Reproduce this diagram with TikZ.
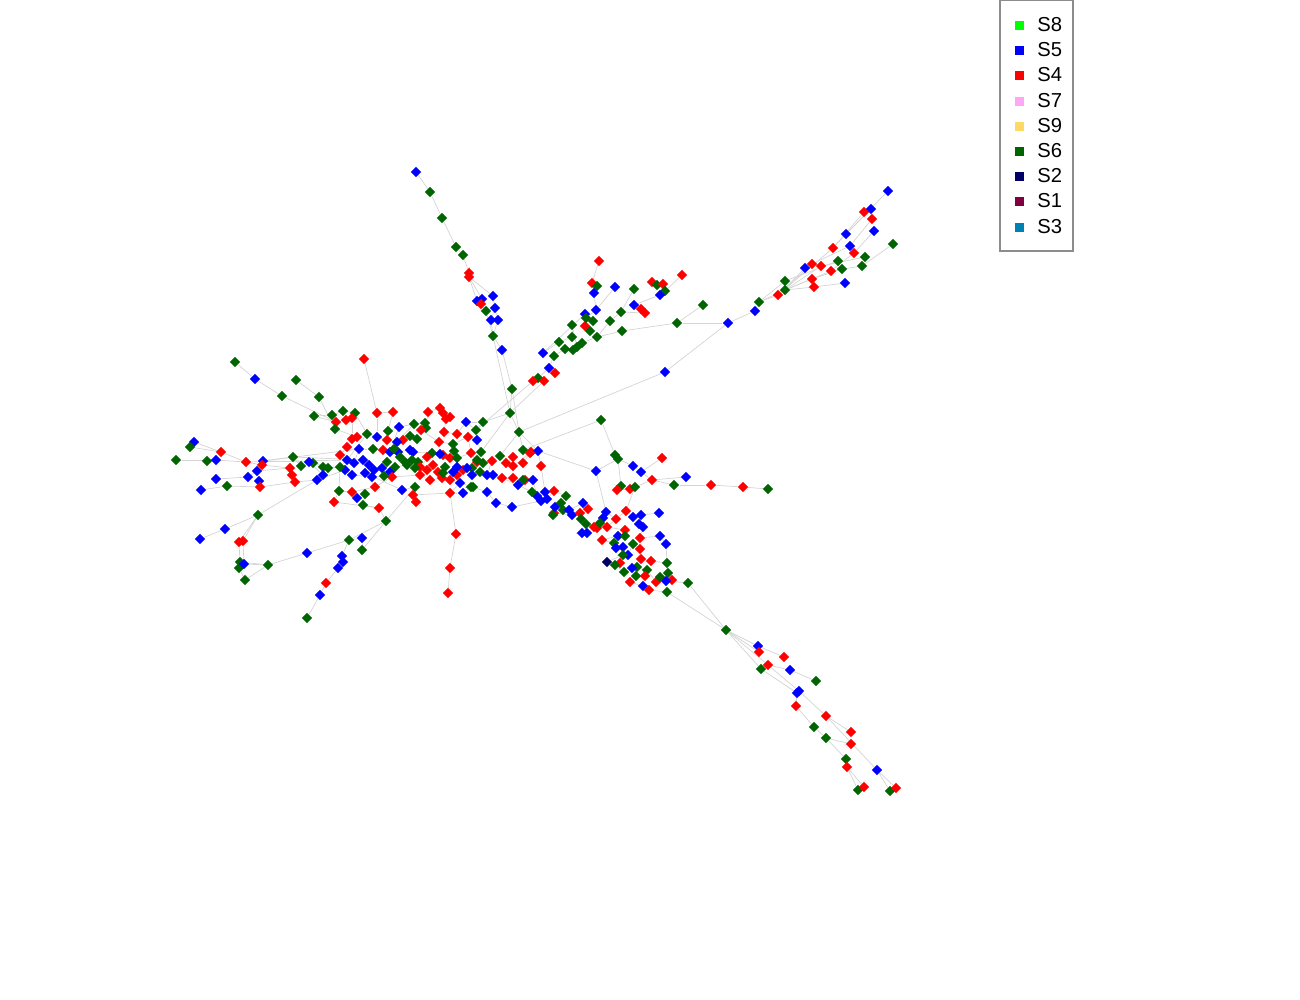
\documentclass[tikz,border=0pt]{standalone}
\usepackage{fontspec}
\setmainfont{Liberation Sans}
\usepackage{tikz}
\usetikzlibrary{shapes.geometric, backgrounds}
\definecolor{S8}{HTML}{00FF00}
\definecolor{S5}{HTML}{0000FF}
\definecolor{S4}{HTML}{FF0000}
\definecolor{S7}{HTML}{FFA6F5}
\definecolor{S9}{HTML}{FFD966}
\definecolor{S6}{HTML}{006400}
\definecolor{S2}{HTML}{000066}
\definecolor{S1}{HTML}{800040}
\definecolor{S3}{HTML}{0080B3}
\tikzset{vert/.style={shape=diamond,draw=none,inner sep=0pt,minimum size=2.1mm}}
\tikzset{link/.style={draw=black!17,line width=0.4pt}}
\tikzset{key/.style={shape=rectangle,draw=none,inner sep=0pt,minimum size=1.8mm}}

\begin{document}
\begin{tikzpicture}[x=0.2mm,y=-0.2mm]
\useasboundingbox (0,0) rectangle (1300,1000);
% top arm
\foreach \n/\c/\x/\y in {a1/S5/416/172, a2/S6/430/192, a3/S6/442/218, a4/S6/456/247, a5/S6/463/255,
  a6/S4/469/273, a7/S4/469/277, a8/S5/477/301, a9/S5/482/299, a10/S4/481/304, a11/S5/493/296,
  a12/S5/495/308, a13/S6/486/311, a14/S5/491/320, a15/S5/498/320, a16/S6/493/336, a17/S5/502/350}
  \node[vert,fill=\c] (\n) at (\x,\y) {};
% upper right arm
\foreach \n/\c/\x/\y in {b1/S4/599/261, b2/S4/592/283, b3/S6/597/286, b4/S5/615/287, b5/S5/594/293,
  b6/S6/634/289, b7/S4/652/282, b8/S6/657/285, b9/S4/663/284, b10/S6/665/291, b11/S5/660/295,
  b12/S4/682/275, b13/S5/634/305, b14/S4/641/309, b15/S4/645/313, b16/S6/703/305, b17/S5/596/310,
  b18/S5/585/314, b19/S6/621/312, b20/S6/610/321, b21/S6/677/323, b22/S5/728/323, b23/S4/585/326,
  b24/S6/586/318, b25/S6/593/321, b26/S6/622/331, b27/S6/590/331, b28/S6/597/337, b29/S6/572/325,
  b30/S6/572/337, b31/S6/559/342, b32/S6/565/349, b33/S6/573/350, b34/S6/577/347, b35/S6/582/343,
  b36/S5/543/353, b37/S6/554/356, b38/S5/549/368, b39/S4/555/373, b40/S6/538/378, b41/S4/533/381,
  b42/S4/544/381, b43/S5/665/372}
  \node[vert,fill=\c] (\n) at (\x,\y) {};
% far north-east arm
\foreach \n/\c/\x/\y in {c1/S5/888/191, c2/S4/864/212, c3/S5/871/209, c4/S4/872/219, c5/S5/874/231,
  c6/S6/893/244, c7/S5/846/234, c8/S4/833/248, c9/S5/850/246, c10/S4/854/253, c11/S6/865/257,
  c12/S6/838/261, c13/S6/862/266, c14/S6/842/269, c15/S5/805/268, c16/S4/812/264, c17/S4/821/266,
  c18/S4/831/271, c19/S4/812/279, c20/S4/814/287, c21/S5/845/283, c22/S6/785/281, c23/S6/785/290,
  c24/S4/778/295, c25/S6/759/302, c26/S5/755/311}
  \node[vert,fill=\c] (\n) at (\x,\y) {};
% east cluster
\foreach \n/\c/\x/\y in {d1/S6/510/413, d2/S6/601/420, d3/S6/519/432, d4/S6/523/450, d5/S4/531/452,
  d6/S5/538/451, d7/S4/541/466, d8/S4/523/463, d9/S6/615/455, d10/S6/618/459, d11/S4/662/458,
  d12/S5/596/471, d13/S5/633/466, d14/S5/641/472, d15/S4/652/480, d16/S5/686/477, d17/S6/674/485,
  d18/S4/711/485, d19/S4/743/487, d20/S6/768/489, d21/S6/621/486, d22/S4/617/490, d23/S4/630/489,
  d24/S6/635/487, d25/S4/554/491, d26/S6/566/496, d27/S5/537/496, d28/S5/545/492, d29/S5/541/501,
  d30/S5/547/499, d31/S4/554/513, d32/S6/553/515, d33/S6/561/503, d34/S6/563/510, d35/S5/555/507,
  d36/S5/569/510, d37/S5/572/515, d38/S5/583/503, d39/S4/588/509, d40/S4/580/513, d41/S6/581/519,
  d42/S6/586/524, d43/S5/582/533, d44/S5/587/533, d45/S5/606/512, d46/S5/603/518, d47/S4/594/527,
  d48/S4/597/528, d49/S4/607/527, d50/S4/616/519, d51/S4/626/511, d52/S5/633/517, d53/S5/641/515,
  d54/S5/639/524, d55/S5/643/527, d56/S5/659/513, d57/S6/600/523, d58/S4/625/530, d59/S5/618/536,
  d60/S6/625/536, d61/S4/640/538, d62/S5/660/536, d63/S5/666/544, d64/S4/602/540, d65/S6/614/543,
  d66/S6/633/544, d67/S4/640/549, d68/S5/616/548, d69/S5/623/547, d70/S5/628/555, d71/S6/623/555,
  d72/S2/607/562, d73/S4/620/563, d74/S6/615/565, d75/S4/641/559, d76/S4/651/561, d77/S6/667/563,
  d78/S6/637/567, d79/S6/647/570, d80/S6/636/576, d81/S5/632/568, d82/S6/624/572, d83/S4/645/576,
  d84/S4/656/582, d85/S6/660/577, d86/S6/668/573, d87/S4/672/580, d88/S5/666/581, d89/S4/630/582,
  d90/S5/643/586, d91/S4/649/590, d92/S6/667/592, d93/S6/688/583}
  \node[vert,fill=\c] (\n) at (\x,\y) {};
% south-east arm
\foreach \n/\c/\x/\y in {e1/S6/726/630, e2/S5/758/646, e3/S4/759/652, e4/S4/784/657, e5/S4/768/665,
  e6/S6/761/669, e7/S5/790/670, e8/S6/816/681, e9/S5/799/691, e10/S5/797/693, e11/S4/796/706,
  e12/S4/826/716, e13/S6/814/727, e14/S6/826/738, e15/S4/851/732, e16/S4/851/744, e17/S6/846/759,
  e18/S4/847/767, e19/S5/877/770, e20/S6/858/790, e21/S4/864/787, e22/S6/890/791, e23/S4/896/788}
  \node[vert,fill=\c] (\n) at (\x,\y) {};
% core
\foreach \n/\c/\x/\y in {f1/S4/364/359, f2/S6/512/389, f3/S4/377/413, f4/S4/393/412, f5/S4/428/412,
  f6/S4/440/408, f7/S4/443/413, f8/S4/450/417, f9/S4/446/419, f10/S5/466/422, f11/S6/483/422,
  f12/S6/414/424, f13/S6/425/423, f14/S6/426/428, f15/S5/399/427, f16/S6/388/431, f17/S4/421/430,
  f18/S4/444/432, f19/S4/457/434, f20/S6/476/430, f21/S4/468/437, f22/S6/367/434, f23/S5/377/437,
  f24/S4/387/440, f25/S4/403/440, f26/S6/410/436, f27/S6/417/439, f28/S5/397/442, f29/S4/439/442,
  f30/S6/453/444, f31/S5/477/440, f32/S5/359/449, f33/S6/373/449, f34/S4/383/450, f35/S5/390/452,
  f36/S5/398/452, f37/S5/410/450, f38/S5/413/452, f39/S6/394/449, f40/S6/400/457, f41/S6/405/462,
  f42/S6/412/460, f43/S6/418/462, f44/S6/432/453, f45/S4/443/455, f46/S4/450/458, f47/S5/440/454,
  f48/S6/454/451, f49/S6/457/458, f50/S4/471/453, f51/S4/477/462, f52/S6/481/452, f53/S6/477/460,
  f54/S6/483/463, f55/S6/500/456, f56/S4/513/457, f57/S4/530/453, f58/S4/492/461, f59/S4/506/463,
  f60/S4/513/466, f61/S5/347/460, f62/S5/354/463, f63/S5/363/460, f64/S5/369/465, f65/S5/374/470,
  f66/S5/365/473, f67/S5/345/470, f68/S5/352/475, f69/S5/372/477, f70/S6/387/462, f71/S6/395/467,
  f72/S5/382/468, f73/S5/390/472, f74/S4/392/477, f75/S6/384/476, f76/S4/420/467, f77/S4/427/470,
  f78/S4/433/465, f79/S4/438/472, f80/S4/442/478, f81/S4/430/480, f82/S4/420/475, f83/S6/407/465,
  f84/S6/415/468, f85/S6/445/467, f86/S6/443/473, f87/S4/450/480, f88/S4/457/475, f89/S4/463/470,
  f90/S5/453/472, f91/S5/457/467, f92/S6/472/468, f93/S6/480/472, f94/S5/472/475, f95/S5/467/468,
  f96/S4/427/457, f97/S5/487/475, f98/S5/493/475, f99/S4/502/478, f100/S4/513/478, f101/S4/525/480,
  f102/S6/523/480, f103/S5/533/480, f104/S5/518/485, f105/S4/375/487, f106/S5/402/490,
  f107/S6/415/487, f108/S4/413/495, f109/S6/473/487, f110/S5/460/483, f111/S5/487/492,
  f112/S4/450/493, f113/S5/496/503, f114/S5/512/507, f115/S6/532/492}
  \node[vert,fill=\c] (\n) at (\x,\y) {};
% west
\foreach \n/\c/\x/\y in {g1/S6/235/362, g2/S5/255/379, g3/S6/296/380, g4/S6/282/396, g5/S6/319/397,
  g6/S6/314/416, g7/S6/332/415, g8/S6/343/411, g9/S6/355/413, g10/S4/336/422, g11/S4/346/420,
  g12/S4/352/418, g13/S6/335/429, g14/S4/352/439, g15/S4/357/437, g16/S4/347/447, g17/S4/340/455,
  g18/S5/194/442, g19/S6/190/447, g20/S4/221/452, g21/S6/176/460, g22/S6/207/461, g23/S5/216/460,
  g24/S4/246/462, g25/S5/263/461, g26/S4/262/465, g27/S5/257/471, g28/S6/293/457, g29/S6/301/466,
  g30/S4/290/468, g31/S4/292/475, g32/S4/295/482, g33/S5/216/479, g34/S5/248/477, g35/S5/259/481,
  g36/S4/260/487, g37/S6/227/486, g38/S5/201/490, g39/S6/313/463, g40/S6/323/467, g41/S6/328/468,
  g42/S6/340/467, g43/S5/309/462, g44/S5/323/475, g45/S5/317/480}
  \node[vert,fill=\c] (\n) at (\x,\y) {};
% south-west
\foreach \n/\c/\x/\y in {h1/S6/258/515, h2/S5/225/529, h3/S5/200/539, h4/S4/239/542, h5/S4/243/541,
  h6/S6/240/562, h7/S6/239/568, h8/S5/244/564, h9/S6/268/565, h10/S6/245/580, h11/S5/307/553,
  h12/S6/349/540, h13/S5/362/538, h14/S6/362/550, h15/S5/342/556, h16/S5/343/562, h17/S5/338/568,
  h18/S4/326/583, h19/S5/320/595, h20/S6/307/618, h21/S6/339/491, h22/S4/352/492, h23/S5/357/498,
  h24/S4/334/502, h25/S6/363/505, h26/S6/365/494, h27/S4/379/508, h28/S6/386/521, h29/S4/456/534,
  h30/S4/450/568, h31/S4/448/593, h33/S4/416/502, h35/S5/463/493, h36/S6/471/487}
  \node[vert,fill=\c] (\n) at (\x,\y) {};

\begin{scope}[on background layer]
\foreach \u/\v in {a1/a2, a2/a3, a3/a4, a4/a5, a5/a6, a6/a7, a7/a8, a7/a9, a9/a10, a7/a11, a8/a13,
  a11/a12, a12/a14, a12/a15, a13/a16, a15/a16, a14/a16, a16/a17, a17/f2, a16/d1}
  \draw[link] (\u) -- (\v);
\foreach \u/\v in {b1/b2, b2/b3, b3/b5, b5/b17, b4/b17, b6/b19, b7/b8, b8/b10, b9/b10, b10/b11,
  b11/b13, b12/b10, b13/b14, b14/b15, b15/b19, b16/b21, b21/b26, b22/b21, b17/b24, b18/b24,
  b24/b25, b25/b23, b23/b27, b27/b28, b28/b26, b19/b20, b20/b28, b29/b30, b30/b31, b31/b32,
  b32/b33, b33/b34, b34/b35, b35/b28, b36/b31, b37/b32, b38/b37, b39/b38, b40/b38, b41/b40,
  b42/b40, b41/f20, b42/d1, b22/b43, b43/d3, b18/b36, b29/b34}
  \draw[link] (\u) -- (\v);
\foreach \u/\v in {c1/c7, c2/c8, c3/c7, c4/c9, c5/c10, c6/c13, c7/c8, c8/c24, c9/c16, c10/c18,
  c11/c17, c12/c22, c13/c18, c14/c19, c15/c24, c16/c24, c17/c23, c18/c23, c19/c23, c20/c23,
  c21/c20, c22/c25, c23/c25, c24/c25, c25/c26, c26/b22}
  \draw[link] (\u) -- (\v);
\foreach \u/\v in {d1/d3, d3/d4, d4/d5, d5/d8, d2/d9, d2/d4, d9/d10, d10/d12, d10/d13, d13/d14,
  d14/d15, d15/d16, d15/d17, d17/d18, d18/d19, d19/d20, d11/d14, d12/d6, d10/d21, d21/d22,
  d22/d23, d23/d24, d24/d15, d24/d51, d4/d6, d6/d7, d7/d28, d28/d27, d27/d29, d29/d30, d30/d25,
  d25/d26, d26/d33, d33/d35, d35/d34, d34/d36, d36/d38, d38/d39, d39/d40, d40/d41, d41/d42,
  d42/d43, d43/d44, d44/d47, d47/d48, d48/d57, d57/d46, d46/d45, d45/d50, d50/d51, d51/d52,
  d52/d53, d53/d56, d54/d55, d53/d54, d55/d61, d50/d49, d49/d58, d58/d60, d60/d59, d59/d64,
  d64/d65, d65/d68, d68/d69, d69/d71, d71/d70, d70/d66, d66/d67, d67/d75, d75/d76, d76/d77,
  d61/d62, d62/d63, d63/d77, d71/d72, d72/d73, d73/d74, d74/d82, d82/d81, d81/d78, d78/d79,
  d79/d83, d83/d80, d80/d89, d89/d90, d90/d91, d91/d92, d84/d85, d85/d86, d86/d87, d87/d88,
  d88/d93, d79/d84, d92/e1, d93/e1, d31/d32, d32/d35, d31/d37, d37/d40, d12/d45, d3/d6}
  \draw[link] (\u) -- (\v);
\foreach \u/\v in {e1/e2, e1/e3, e1/e5, e1/e6, e2/e4, e5/e7, e7/e8, e6/e10, e5/e9, e9/e12,
  e10/e11, e11/e13, e13/e14, e14/e16, e12/e15, e14/e17, e17/e18, e18/e20, e18/e21, e12/e19,
  e19/e22, e19/e23}
  \draw[link] (\u) -- (\v);
\foreach \u/\v in {f61/f63, f63/f64, f64/f65, f65/f72, f72/f73, f73/f71, f71/f83, f83/f84,
  f84/f76, f76/f77, f77/f78, f78/f79, f79/f85, f85/f86, f86/f90, f90/f91, f91/f89, f89/f95,
  f95/f92, f92/f93, f93/f94, f94/f97, f97/f98, f98/f99, f99/f100, f100/f102, f102/f101,
  f101/f103, f103/d27, f67/f68, f68/f69, f69/f75, f75/f74, f74/f82, f82/f81, f81/f80, f80/f87,
  f87/f88, f88/f110, f110/f109, f109/f111, f111/f113, f113/f114, f114/d29, f62/f32, f32/f33,
  f33/f34, f34/f35, f35/f36, f36/f39, f39/f40, f40/f41, f41/f42, f42/f43, f43/f96, f96/f44,
  f44/f47, f47/f45, f45/f46, f46/f48, f48/f49, f49/f50, f50/f51, f51/f52, f52/f53, f53/f54,
  f54/f58, f58/f55, f55/f59, f59/f56, f56/f60, f60/f57, f57/d5, f22/f23, f23/f24, f24/f28,
  f28/f25, f25/f26, f26/f27, f27/f17, f17/f29, f29/f30, f30/f21, f21/f31, f31/f20, f20/f11,
  f11/f10, f10/f19, f19/f18, f18/f9, f9/f8, f8/f7, f7/f6, f6/f5, f5/f14, f14/f13, f13/f12,
  f12/f15, f15/f16, f16/f4, f4/f3, f3/f1, d1/f2, d1/f11, f55/d3, f105/f66, f66/f69, f106/f107,
  f107/f108, f108/f112, f112/f110, f104/f115, f115/d28, f37/f38, f38/f47, f37/f36,
  f22/f61, f105/f74, f66/f106, f23/f3, f28/f12, f35/f15, f40/f83, f44/f76, f21/f50, f31/f52,
  f10/f20, d1/f52, f2/d3, f58/f97, f99/f104, f57/d6}
  \draw[link] (\u) -- (\v);
\foreach \u/\v in {g1/g2, g2/g4, g4/g10, g3/g5, g5/g13, g6/g10, g6/g7, g7/g8, g8/g9, g9/f22,
  g10/g11, g11/g12, g12/g14, g13/g15, g14/g16, g16/g17, g17/f61, g21/g23, g22/g23, g18/g20,
  g19/g20, g20/g24, g23/g24, g24/g26, g26/g30, g25/g28, g27/g30, g28/g29, g29/g39, g30/g31,
  g31/g32, g33/g34, g34/g27, g35/g36, g37/g36, g38/g37, g36/g32, g32/g45, g39/g40, g40/g41,
  g41/g42, g42/f61, g43/g44, g44/g45, g45/f67, g25/g43, g15/f22, g24/f61, g25/f32, g28/f63,
  g43/f67}
  \draw[link] (\u) -- (\v);
\foreach \u/\v in {h3/h2, h2/h1, h1/h4, h1/h5, h4/h6, h5/h8, h8/h9, h6/h9, h7/h10, h7/h8,
  h10/h9, h9/h11, h11/h12, h12/h13, h13/h14, h12/h15, h15/h16, h16/h17, h17/h18, h18/h19,
  h19/h20, h12/h28, h14/h28, h28/h27, h27/h24, h24/h21, h21/h22, h22/h23, h23/h26, h26/h25,
  h25/h27, h21/g42, h22/f105, h29/h30, h30/h31, h29/f112, h33/f108, h35/h36, h36/f109,
  h35/f112, h1/g45, h28/f107}
  \draw[link] (\u) -- (\v);
\end{scope}

% legend
\draw[black!45,line width=0.6pt] (1000,0) rectangle (1073,251);
\foreach \lab/\y in {S8/25, S5/50, S4/75, S7/101, S9/126, S6/151, S2/176, S1/201, S3/227}{
  \node[key,fill=\lab] (k\lab) at (1019,\y) {};
  \node[anchor=west,inner sep=0pt,font=\fontsize{11.5}{13}\selectfont] (t\lab) at (1037,\y) {\lab};
}
\end{tikzpicture}
\end{document}
